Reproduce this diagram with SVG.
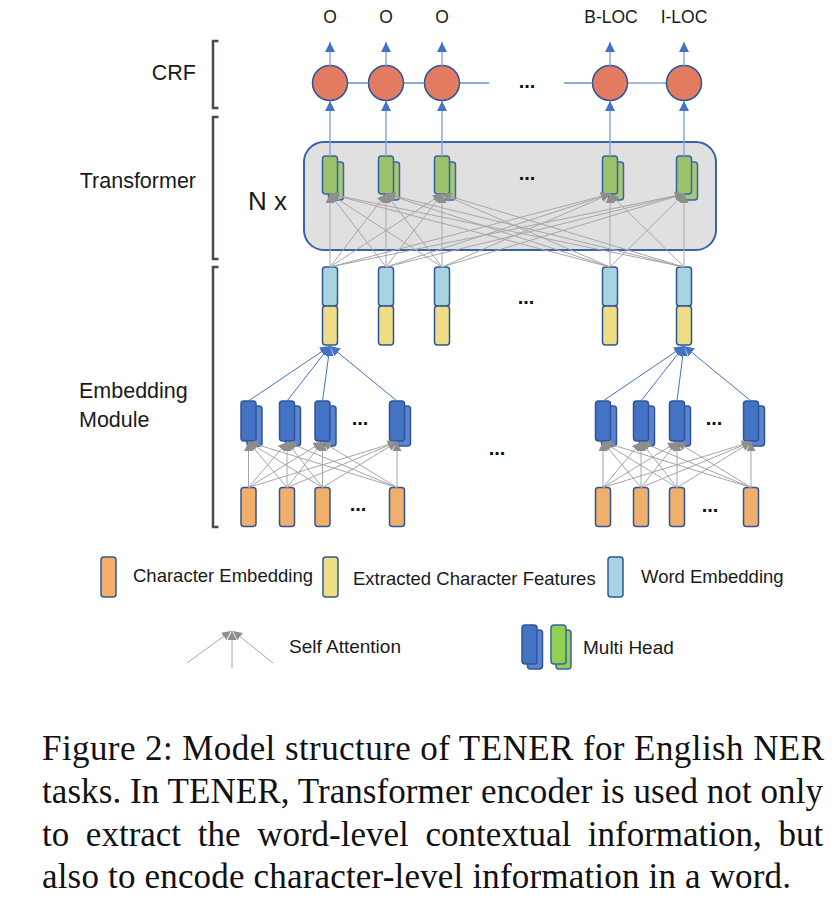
<svg xmlns="http://www.w3.org/2000/svg" width="836" height="900" viewBox="0 0 836 900">
<style>
  .lbl { font-family: "Liberation Sans", Arial, sans-serif; fill: #1a1a1a; }
  .dots { font-family: "Liberation Sans", Arial, sans-serif; font-weight: bold; font-size: 20px; fill: #111; text-anchor: middle; }
  .cap { font-family: "Liberation Serif", "Times New Roman", serif; font-size: 35px; fill: #111; }
  .br { fill: none; stroke: #4F4A48; stroke-width: 2.5; }
  .crf { fill: #E27B5F; stroke: #2F5597; stroke-width: 1.5; }
  .grn { fill: #9BC36A; stroke: #3A62A8; stroke-width: 1.5; }
  .grn2 { fill: #A3C877; stroke: #3A62A8; stroke-width: 1.5; }
  .wemb { fill: #A8D4E2; stroke: #2F5597; stroke-width: 1.5; }
  .yel { fill: #EEDD84; stroke: #2F5597; stroke-width: 1.5; }
  .org { fill: #F0B06C; stroke: #2F5597; stroke-width: 1.5; }
  .mh { fill: #4472C4; stroke: #2F5597; stroke-width: 1.5; }
  .mh2 { fill: #5A84CF; stroke: #2F5597; stroke-width: 1.5; }
  .lg { fill: #92D050; stroke: #3A62A8; stroke-width: 1.5; }
  .lg2 { fill: #92D050; stroke: #3A62A8; stroke-width: 1.5; }
  .ga { stroke: #A6A6A6; stroke-width: 1; fill: none; marker-end: url(#gh); }
  .bl { stroke: #4472C4; stroke-width: 1; fill: none; marker-end: url(#bh); }
  .bv { stroke: #8EA9DB; stroke-width: 1.5; fill: none; marker-end: url(#bh); }
  .hl { stroke: #4472C4; stroke-width: 1.2; fill: none; }
</style>
<defs>
  <marker id="gh" viewBox="0 0 10 10" refX="10" refY="5" markerWidth="9" markerHeight="9" markerUnits="userSpaceOnUse" orient="auto">
    <path d="M0,0 L10,5 L0,10 z" fill="#8E8E8E"/>
  </marker>
  <marker id="bh" viewBox="0 0 10 10" refX="10" refY="5" markerWidth="10" markerHeight="10" markerUnits="userSpaceOnUse" orient="auto">
    <path d="M0,0 L10,5 L0,10 z" fill="#4472C4"/>
  </marker>
</defs>

<rect width="836" height="900" fill="#FFFFFF"/>

<!-- Brackets and side labels -->
<g id="bracket-crf">
  <path class="br" d="M218.5,41 H213 V108 H218.5"/>
  <text class="lbl" x="196" y="80" font-size="21.5" text-anchor="end">CRF</text>
</g>
<g id="bracket-transformer">
  <path class="br" d="M218.5,117 H213 V259 H218.5"/>
  <text class="lbl" x="196" y="188" font-size="21.5" text-anchor="end">Transformer</text>
</g>
<g id="bracket-embedding">
  <path class="br" d="M218.5,267 H213 V527 H218.5"/>
  <text class="lbl" x="79" y="398" font-size="21.5">Embedding</text>
  <text class="lbl" x="79" y="427" font-size="21.5">Module</text>
</g>

<!-- Transformer box -->
<g id="transformer">
  <rect x="304" y="142" width="412" height="108" rx="20" fill="#E1E0E1" stroke="#3A62A8" stroke-width="2"/>
  <text class="lbl" x="248" y="210" font-size="26">N x</text>
  <text class="dots" x="527" y="180">...</text>
</g>

<!-- Output labels -->
<g id="outputs" class="lbl" font-size="17.5" text-anchor="middle">
  <text x="330" y="22.5">O</text>
  <text x="386" y="22.5">O</text>
  <text x="442" y="22.5">O</text>
  <text x="611" y="22.5">B-LOC</text>
  <text x="684" y="22.5">I-LOC</text>
</g>

<!-- CRF nodes -->
<g id="crf-nodes">
  <circle class="crf" cx="330" cy="83" r="17.5"/>
  <circle class="crf" cx="386" cy="83" r="17.5"/>
  <circle class="crf" cx="442" cy="83" r="17.5"/>
  <circle class="crf" cx="610" cy="83" r="17.5"/>
  <circle class="crf" cx="684" cy="83" r="17.5"/>
  <text class="dots" x="527" y="88">...</text>
</g>

<!-- Transformer multi-head (green) -->
<g id="transformer-heads">
  <rect class="grn2" x="328.5" y="162" width="15" height="38" rx="3"/>
  <rect class="grn" x="322.5" y="156" width="15" height="38" rx="3"/>
  <rect class="grn2" x="384.5" y="162" width="15" height="38" rx="3"/>
  <rect class="grn" x="378.5" y="156" width="15" height="38" rx="3"/>
  <rect class="grn2" x="440.5" y="162" width="15" height="38" rx="3"/>
  <rect class="grn" x="434.5" y="156" width="15" height="38" rx="3"/>
  <rect class="grn2" x="608.5" y="162" width="15" height="38" rx="3"/>
  <rect class="grn" x="602.5" y="156" width="15" height="38" rx="3"/>
  <rect class="grn2" x="682.5" y="162" width="15" height="38" rx="3"/>
  <rect class="grn" x="676.5" y="156" width="15" height="38" rx="3"/>
</g>

<!-- Word representation: word embedding + extracted char features -->
<g id="word-repr">
  <rect class="wemb" x="322.5" y="267" width="15" height="39" rx="3"/>
  <rect class="yel" x="322.5" y="306" width="15" height="39" rx="3"/>
  <rect class="wemb" x="378.5" y="267" width="15" height="39" rx="3"/>
  <rect class="yel" x="378.5" y="306" width="15" height="39" rx="3"/>
  <rect class="wemb" x="434.5" y="267" width="15" height="39" rx="3"/>
  <rect class="yel" x="434.5" y="306" width="15" height="39" rx="3"/>
  <rect class="wemb" x="602.5" y="267" width="15" height="39" rx="3"/>
  <rect class="yel" x="602.5" y="306" width="15" height="39" rx="3"/>
  <rect class="wemb" x="676.5" y="267" width="15" height="39" rx="3"/>
  <rect class="yel" x="676.5" y="306" width="15" height="39" rx="3"/>
  <text class="dots" x="526" y="304">...</text>
</g>

<!-- Character-level multi-head (blue) group 1 -->
<g id="char-heads-1">
  <rect class="mh2" x="247" y="406" width="15" height="40" rx="3"/>
  <rect class="mh" x="241" y="401" width="15" height="40" rx="3"/>
  <rect class="mh2" x="285.5" y="406" width="15" height="40" rx="3"/>
  <rect class="mh" x="279.5" y="401" width="15" height="40" rx="3"/>
  <rect class="mh2" x="321" y="406" width="15" height="40" rx="3"/>
  <rect class="mh" x="315" y="401" width="15" height="40" rx="3"/>
  <rect class="mh2" x="395.5" y="406" width="15" height="40" rx="3"/>
  <rect class="mh" x="389.5" y="401" width="15" height="40" rx="3"/>
  <text class="dots" x="360" y="425">...</text>
</g>
<g id="char-heads-2">
  <rect class="mh2" x="601.5" y="406" width="15" height="40" rx="3"/>
  <rect class="mh" x="595.5" y="401" width="15" height="40" rx="3"/>
  <rect class="mh2" x="639.5" y="406" width="15" height="40" rx="3"/>
  <rect class="mh" x="633.5" y="401" width="15" height="40" rx="3"/>
  <rect class="mh2" x="675.5" y="406" width="15" height="40" rx="3"/>
  <rect class="mh" x="669.5" y="401" width="15" height="40" rx="3"/>
  <rect class="mh2" x="749.5" y="406" width="15" height="40" rx="3"/>
  <rect class="mh" x="743.5" y="401" width="15" height="40" rx="3"/>
  <text class="dots" x="714" y="425">...</text>
</g>

<!-- Character embeddings -->
<g id="char-emb-1">
  <rect class="org" x="241" y="487.5" width="15" height="39" rx="3"/>
  <rect class="org" x="279.5" y="487.5" width="15" height="39" rx="3"/>
  <rect class="org" x="315" y="487.5" width="15" height="39" rx="3"/>
  <rect class="org" x="389.5" y="487.5" width="15" height="39" rx="3"/>
  <text class="dots" x="358" y="511">...</text>
</g>
<g id="char-emb-2">
  <rect class="org" x="595.5" y="487.5" width="15" height="39" rx="3"/>
  <rect class="org" x="633.5" y="487.5" width="15" height="39" rx="3"/>
  <rect class="org" x="669.5" y="487.5" width="15" height="39" rx="3"/>
  <rect class="org" x="743.5" y="487.5" width="15" height="39" rx="3"/>
  <text class="dots" x="710" y="512">...</text>
</g>
<g id="between-words">
  <text class="dots" x="497" y="455">...</text>
</g>

<!-- Connectors -->
<g id="connectors">
  <!-- CRF chain -->
  <line class="hl" x1="347.5" y1="83" x2="368.5" y2="83"/>
  <line class="hl" x1="403.5" y1="83" x2="424.5" y2="83"/>
  <line class="hl" x1="459.5" y1="83" x2="489" y2="83"/>
  <line class="hl" x1="564" y1="83" x2="592.5" y2="83"/>
  <line class="hl" x1="627.5" y1="83" x2="666.5" y2="83"/>
  <!-- CRF outputs -->
  <line class="bv" x1="330" y1="65.5" x2="330" y2="42"/>
  <line class="bv" x1="386" y1="65.5" x2="386" y2="42"/>
  <line class="bv" x1="442" y1="65.5" x2="442" y2="42"/>
  <line class="bv" x1="610" y1="65.5" x2="610" y2="42"/>
  <line class="bv" x1="684" y1="65.5" x2="684" y2="42"/>
  <!-- Transformer to CRF -->
  <line class="bv" x1="330" y1="156" x2="330" y2="101"/>
  <line class="bv" x1="386" y1="156" x2="386" y2="101"/>
  <line class="bv" x1="442" y1="156" x2="442" y2="101"/>
  <line class="bv" x1="610" y1="156" x2="610" y2="101"/>
  <line class="bv" x1="684" y1="156" x2="684" y2="101"/>
  <!-- Transformer self attention -->
  <line class="ga" x1="330" y1="267" x2="330" y2="194"/>
  <line class="ga" x1="330" y1="267" x2="386" y2="194"/>
  <line class="ga" x1="330" y1="267" x2="442" y2="194"/>
  <line class="ga" x1="330" y1="267" x2="610" y2="194"/>
  <line class="ga" x1="330" y1="267" x2="684" y2="194"/>
  <line class="ga" x1="386" y1="267" x2="330" y2="194"/>
  <line class="ga" x1="386" y1="267" x2="386" y2="194"/>
  <line class="ga" x1="386" y1="267" x2="442" y2="194"/>
  <line class="ga" x1="386" y1="267" x2="610" y2="194"/>
  <line class="ga" x1="386" y1="267" x2="684" y2="194"/>
  <line class="ga" x1="442" y1="267" x2="330" y2="194"/>
  <line class="ga" x1="442" y1="267" x2="386" y2="194"/>
  <line class="ga" x1="442" y1="267" x2="442" y2="194"/>
  <line class="ga" x1="442" y1="267" x2="610" y2="194"/>
  <line class="ga" x1="442" y1="267" x2="684" y2="194"/>
  <line class="ga" x1="610" y1="267" x2="330" y2="194"/>
  <line class="ga" x1="610" y1="267" x2="386" y2="194"/>
  <line class="ga" x1="610" y1="267" x2="442" y2="194"/>
  <line class="ga" x1="610" y1="267" x2="610" y2="194"/>
  <line class="ga" x1="610" y1="267" x2="684" y2="194"/>
  <line class="ga" x1="684" y1="267" x2="330" y2="194"/>
  <line class="ga" x1="684" y1="267" x2="386" y2="194"/>
  <line class="ga" x1="684" y1="267" x2="442" y2="194"/>
  <line class="ga" x1="684" y1="267" x2="610" y2="194"/>
  <line class="ga" x1="684" y1="267" x2="684" y2="194"/>
  <!-- Char heads to extracted features -->
  <line class="bl" x1="248.5" y1="401" x2="330" y2="346"/>
  <line class="bl" x1="287" y1="401" x2="330" y2="346"/>
  <line class="bl" x1="322.5" y1="401" x2="330" y2="346"/>
  <line class="bl" x1="397" y1="401" x2="330" y2="346"/>
  <line class="bl" x1="603" y1="401" x2="684" y2="346"/>
  <line class="bl" x1="641" y1="401" x2="684" y2="346"/>
  <line class="bl" x1="677" y1="401" x2="684" y2="346"/>
  <line class="bl" x1="751" y1="401" x2="684" y2="346"/>
  <!-- Char-level self attention group 1 -->
  <line class="ga" x1="248.5" y1="487.5" x2="248.5" y2="442"/>
  <line class="ga" x1="248.5" y1="487.5" x2="287" y2="442"/>
  <line class="ga" x1="248.5" y1="487.5" x2="322.5" y2="442"/>
  <line class="ga" x1="248.5" y1="487.5" x2="397" y2="442"/>
  <line class="ga" x1="287" y1="487.5" x2="248.5" y2="442"/>
  <line class="ga" x1="287" y1="487.5" x2="287" y2="442"/>
  <line class="ga" x1="287" y1="487.5" x2="322.5" y2="442"/>
  <line class="ga" x1="287" y1="487.5" x2="397" y2="442"/>
  <line class="ga" x1="322.5" y1="487.5" x2="248.5" y2="442"/>
  <line class="ga" x1="322.5" y1="487.5" x2="287" y2="442"/>
  <line class="ga" x1="322.5" y1="487.5" x2="322.5" y2="442"/>
  <line class="ga" x1="322.5" y1="487.5" x2="397" y2="442"/>
  <line class="ga" x1="397" y1="487.5" x2="248.5" y2="442"/>
  <line class="ga" x1="397" y1="487.5" x2="287" y2="442"/>
  <line class="ga" x1="397" y1="487.5" x2="322.5" y2="442"/>
  <line class="ga" x1="397" y1="487.5" x2="397" y2="442"/>
  <!-- Char-level self attention group 2 -->
  <line class="ga" x1="603" y1="487.5" x2="603" y2="442"/>
  <line class="ga" x1="603" y1="487.5" x2="641" y2="442"/>
  <line class="ga" x1="603" y1="487.5" x2="677" y2="442"/>
  <line class="ga" x1="603" y1="487.5" x2="751" y2="442"/>
  <line class="ga" x1="641" y1="487.5" x2="603" y2="442"/>
  <line class="ga" x1="641" y1="487.5" x2="641" y2="442"/>
  <line class="ga" x1="641" y1="487.5" x2="677" y2="442"/>
  <line class="ga" x1="641" y1="487.5" x2="751" y2="442"/>
  <line class="ga" x1="677" y1="487.5" x2="603" y2="442"/>
  <line class="ga" x1="677" y1="487.5" x2="641" y2="442"/>
  <line class="ga" x1="677" y1="487.5" x2="677" y2="442"/>
  <line class="ga" x1="677" y1="487.5" x2="751" y2="442"/>
  <line class="ga" x1="751" y1="487.5" x2="603" y2="442"/>
  <line class="ga" x1="751" y1="487.5" x2="641" y2="442"/>
  <line class="ga" x1="751" y1="487.5" x2="677" y2="442"/>
  <line class="ga" x1="751" y1="487.5" x2="751" y2="442"/>
</g>

<!-- Legend -->
<g id="legend-char-emb">
  <rect class="org" x="101" y="557" width="15" height="40" rx="3"/>
  <text class="lbl" x="133" y="582" font-size="18.5">Character Embedding</text>
</g>
<g id="legend-char-feat">
  <rect class="yel" x="323" y="557" width="15" height="40" rx="3"/>
  <text class="lbl" x="353" y="585" font-size="18.5">Extracted Character Features</text>
</g>
<g id="legend-word-emb">
  <rect class="wemb" x="608" y="557" width="15" height="40" rx="3"/>
  <text class="lbl" x="641" y="583" font-size="18.5">Word Embedding</text>
</g>
<g id="legend-self-attention">
  <line class="ga" x1="187" y1="663" x2="231" y2="631"/>
  <line class="ga" x1="232" y1="668" x2="232" y2="631"/>
  <line class="ga" x1="273" y1="663" x2="233" y2="631"/>
  <text class="lbl" x="289" y="653" font-size="19">Self Attention</text>
</g>
<g id="legend-multi-head">
  <rect class="mh2" x="527.5" y="630" width="15" height="39" rx="3"/>
  <rect class="mh" x="522" y="625" width="15" height="39" rx="3"/>
  <rect class="lg2" x="556" y="630" width="15" height="39" rx="3"/>
  <rect class="lg" x="551" y="625" width="15" height="39" rx="3"/>
  <text class="lbl" x="583" y="654" font-size="19">Multi Head</text>
</g>

<!-- Caption -->
<g id="caption">
  <text class="cap" x="42" y="760" textLength="782" lengthAdjust="spacing">Figure 2: Model structure of TENER for English NER</text>
  <text class="cap" x="42" y="803" textLength="781" lengthAdjust="spacing">tasks. In TENER, Transformer encoder is used not only</text>
  <text class="cap" x="42" y="846" word-spacing="7.9">to extract the word-level contextual information, but</text>
  <text class="cap" x="42" y="888" textLength="749" lengthAdjust="spacing">also to encode character-level information in a word.</text>
</g>
</svg>
